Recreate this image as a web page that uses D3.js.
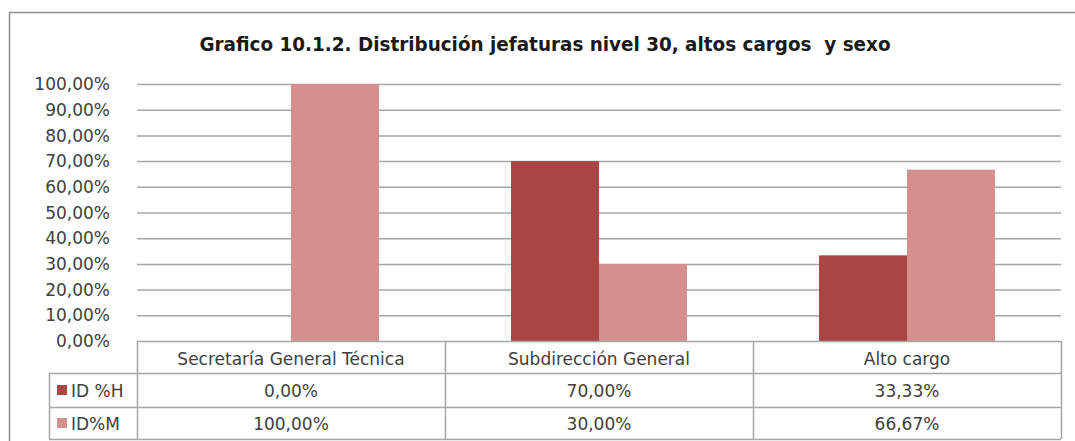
<!DOCTYPE html>
<html>
<head>
<meta charset="utf-8">
<script src="https://cdnjs.cloudflare.com/ajax/libs/d3/7.8.5/d3.min.js"></script>
<style>
  body { margin: 0; background: #fff; }
  text { font-family: "DejaVu Sans", sans-serif; fill: #404040; }
</style>
</head>
<body>
<div id="chart"></div>
<script>
// data
var categories = ["Secretaría General Técnica", "Subdirección General", "Alto cargo"];
var seriesNames = ["ID %H", "ID%M"];
var valuesH = [0, 70, 33.33];
var valuesM = [100, 30, 66.67];
var yTicks = [0, 10, 20, 30, 40, 50, 60, 70, 80, 90, 100];
var title = "Grafico 10.1.2. Distribución jefaturas nivel 30, altos cargos  y sexo";

var colors = ["#a94543", "#d48f8f"];
var fmt = function(v) { return v.toFixed(2).replace(".", ",") + "%"; };

var W = 1075, H = 441;
var plotLeft = 137, plotRight = 1061, plotTop = 84, zeroY = 341;

var svg = d3.select("#chart").append("svg")
  .attr("width", W)
  .attr("height", H);

// outer frame
svg.append("rect")
  .attr("x", 9.5).attr("y", 12.5)
  .attr("width", 1100).attr("height", 460)
  .style("fill", "none")
  .style("stroke", "#8c8c8c")
  .style("stroke-width", 1.5);

// title
svg.append("text")
  .attr("x", 545).attr("y", 51)
  .attr("text-anchor", "middle")
  .attr("textLength", 691)
  .attr("lengthAdjust", "spacingAndGlyphs")
  .style("white-space", "pre")
  .style("font-weight", "bold")
  .style("font-size", "19px")
  .style("fill", "#1a1a1a")
  .text(title);

var x = d3.scaleBand()
  .domain(categories)
  .range([plotLeft, plotRight]);

var barW = x.bandwidth() / 3.5;
var x1 = d3.scaleBand()
  .domain(seriesNames)
  .range([(x.bandwidth() - 2 * barW) / 2, (x.bandwidth() + 2 * barW) / 2]);

var y = d3.scaleLinear()
  .domain([0, 100])
  .range([zeroY, plotTop]);

// gridlines
svg.append("g")
  .selectAll("line")
  .data(yTicks.filter(function(d) { return d > 0; }))
  .enter().append("line")
    .attr("x1", plotLeft).attr("x2", plotRight)
    .attr("y1", function(d) { return y(d) + 0.5; })
    .attr("y2", function(d) { return y(d) + 0.5; })
    .style("stroke", "#a6a6a6")
    .style("stroke-width", 1.5);

// y axis labels
svg.append("g")
  .selectAll("text")
  .data(yTicks)
  .enter().append("text")
    .attr("x", 110)
    .attr("y", function(d) { return y(d); })
    .attr("dy", "0.36em")
    .attr("text-anchor", "end")
    .style("font-size", "17px")
    .text(function(d) { return fmt(d); });

// bars
var series = [valuesH, valuesM];
series.forEach(function(vals, s) {
  svg.append("g")
    .selectAll("rect")
    .data(vals)
    .enter().append("rect")
      .attr("x", function(d, i) { return x(categories[i]) + x1(seriesNames[s]); })
      .attr("y", function(d) { return y(d); })
      .attr("width", x1.bandwidth())
      .attr("height", function(d) { return zeroY - y(d); })
      .style("fill", colors[s]);
});

// data table
var rowY = [zeroY, 373, 407, 439];
var keyLeft = 49;
var tbl = svg.append("g")
  .style("stroke", "#a6a6a6")
  .style("stroke-width", 1.5);

tbl.append("line")
  .attr("x1", plotLeft).attr("x2", plotRight)
  .attr("y1", rowY[0] + 0.5).attr("y2", rowY[0] + 0.5);
[1, 2, 3].forEach(function(r) {
  tbl.append("line")
    .attr("x1", keyLeft).attr("x2", plotRight)
    .attr("y1", rowY[r] + 0.5).attr("y2", rowY[r] + 0.5);
});
tbl.append("line")
  .attr("x1", keyLeft + 0.5).attr("x2", keyLeft + 0.5)
  .attr("y1", rowY[1]).attr("y2", rowY[3]);
categories.concat([null]).forEach(function(c) {
  var xx = c === null ? plotRight : x(c);
  tbl.append("line")
    .attr("x1", xx + 0.5).attr("x2", xx + 0.5)
    .attr("y1", rowY[0]).attr("y2", rowY[3]);
});

// category labels
svg.append("g")
  .selectAll("text")
  .data(categories)
  .enter().append("text")
    .attr("x", function(d) { return x(d) + x.bandwidth() / 2; })
    .attr("y", 365)
    .attr("text-anchor", "middle")
    .style("font-size", "17px")
    .text(function(d) { return d; });

// table values and legend keys
series.forEach(function(vals, s) {
  svg.append("g")
    .selectAll("text")
    .data(vals)
    .enter().append("text")
      .attr("x", function(d, i) { return x(categories[i]) + x.bandwidth() / 2; })
      .attr("y", s === 0 ? 397 : 430)
      .attr("text-anchor", "middle")
      .style("font-size", "17px")
      .text(function(d) { return fmt(d); });

  svg.append("rect")
    .attr("x", 57).attr("y", s === 0 ? 385 : 418)
    .attr("width", 10).attr("height", 10)
    .style("fill", colors[s]);

  svg.append("text")
    .attr("x", 71)
    .attr("y", s === 0 ? 397 : 430)
    .style("font-size", "17px")
    .text(seriesNames[s]);
});
</script>
</body>
</html>
